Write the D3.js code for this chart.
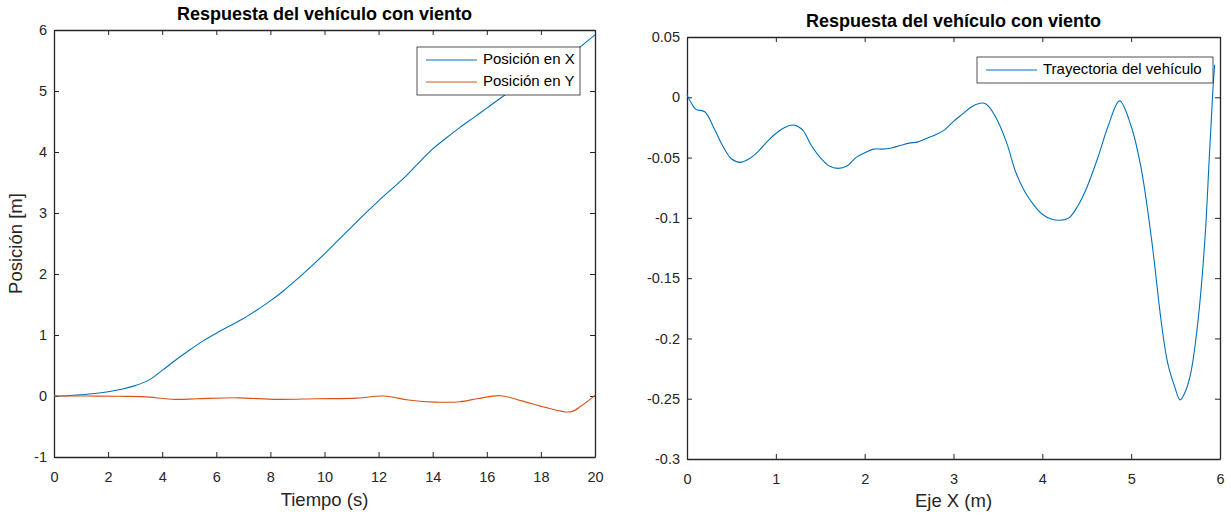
<!DOCTYPE html>
<html>
<head>
<meta charset="UTF-8">
<title>Respuesta del vehículo con viento</title>
<script src="https://d3js.org/d3.v7.min.js"></script>
<style>
    body { margin: 0; background: #fff; }
    svg text { font-family: "Liberation Sans", Arial, sans-serif; fill: #262626; }
    .axis path, .axis line { stroke: #262626; }
    .axis text { font-size: 14.5px; }
    .title { font-size: 18px; font-weight: bold; fill: #000; }
    .label { font-size: 18.5px; }
    .legend text { font-size: 15px; fill: #000; }
</style>
</head>
<body>
<script>
// left plot: position vs time
var tiempoX = [0, 0.5, 1, 1.5, 2, 2.5, 3, 3.5, 4, 4.5, 5, 5.5, 6, 6.5, 7, 7.5, 8, 8.5, 9, 9.5, 10, 10.5, 11, 11.5, 12, 12.5, 13, 13.5, 14, 14.5, 15, 15.5, 16, 16.5, 17, 17.5, 18, 18.5, 19, 19.5, 20];
var posX = [0, 0.005, 0.02, 0.04, 0.07, 0.11, 0.17, 0.26, 0.42, 0.59, 0.75, 0.9, 1.03, 1.15, 1.27, 1.41, 1.56, 1.73, 1.92, 2.12, 2.33, 2.55, 2.77, 2.99, 3.2, 3.4, 3.6, 3.83, 4.05, 4.23, 4.4, 4.56, 4.72, 4.88, 5.03, 5.17, 5.3, 5.43, 5.56, 5.74, 5.92];
var tiempoY = [0, 1.2, 2.4, 3.3, 4.46, 5.3, 6.8, 8.26, 9.7, 11.2, 12.2, 13.1, 14.1, 15, 15.7, 16.5, 17.3, 18.2, 19.1, 19.5, 20];
var posY = [0, 0, -0.005, -0.01, -0.055, -0.045, -0.03, -0.055, -0.045, -0.035, 0, -0.065, -0.1, -0.095, -0.04, 0.005, -0.08, -0.19, -0.26, -0.16, 0.01];

var ticksT = [0, 2, 4, 6, 8, 10, 12, 14, 16, 18, 20];
var ticksPos = [-1, 0, 1, 2, 3, 4, 5, 6];

// right plot: trajectory Y vs X
var trayX = [0, 0.05, 0.1, 0.2, 0.3, 0.4, 0.5, 0.6, 0.7, 0.8, 0.9, 1.0, 1.1, 1.2, 1.3, 1.4, 1.5, 1.6, 1.7, 1.8, 1.9, 2.0, 2.1, 2.2, 2.3, 2.4, 2.5, 2.6, 2.7, 2.8, 2.9, 3.0, 3.1, 3.2, 3.3, 3.35, 3.4, 3.5, 3.6, 3.7, 3.8, 3.9, 4.0, 4.1, 4.2, 4.3, 4.4, 4.5, 4.63, 4.74, 4.87, 5.0, 5.11, 5.23, 5.34, 5.41, 5.49, 5.55, 5.61, 5.67, 5.75, 5.83, 5.88, 5.92, 5.94];
var trayY = [0.002, -0.005, -0.01, -0.012, -0.025, -0.04, -0.051, -0.054, -0.051, -0.045, -0.037, -0.03, -0.025, -0.023, -0.027, -0.04, -0.05, -0.057, -0.059, -0.057, -0.05, -0.046, -0.043, -0.043, -0.042, -0.04, -0.038, -0.037, -0.034, -0.031, -0.027, -0.02, -0.014, -0.008, -0.005, -0.005, -0.008, -0.02, -0.038, -0.062, -0.078, -0.089, -0.097, -0.101, -0.102, -0.1, -0.09, -0.075, -0.049, -0.024, -0.003, -0.024, -0.058, -0.118, -0.187, -0.22, -0.24, -0.251, -0.244, -0.229, -0.187, -0.118, -0.049, 0.006, 0.027];

var ticksEjeX = [0, 1, 2, 3, 4, 5, 6];
var ticksEjeY = [-0.3, -0.25, -0.2, -0.15, -0.1, -0.05, 0, 0.05];

var svg = d3.select("body").append("svg")
    .attr("width", 1231)
    .attr("height", 515);

// matlab style numbers, plain hyphen for negatives
function num(d) { return String(+d.toFixed(2)); }

function drawAxes(box, x, y, xt, yt) {
    var g = svg.append("g");
    g.append("rect")
        .attr("x", box.left).attr("y", box.top)
        .attr("width", box.right - box.left).attr("height", box.bottom - box.top)
        .attr("fill", "#fff");

    g.append("g").attr("class", "axis")
        .attr("transform", "translate(0," + box.bottom + ")")
        .call(d3.axisBottom(x).tickValues(xt).tickSizeInner(-5).tickSizeOuter(0).tickPadding(15).tickFormat(num));
    g.append("g").attr("class", "axis")
        .attr("transform", "translate(0," + box.top + ")")
        .call(d3.axisTop(x).tickValues(xt).tickSizeInner(-5).tickSizeOuter(0).tickFormat(""));
    g.append("g").attr("class", "axis")
        .attr("transform", "translate(" + box.left + ",0)")
        .call(d3.axisLeft(y).tickValues(yt).tickSizeInner(-5).tickSizeOuter(0).tickPadding(7).tickFormat(num));
    g.append("g").attr("class", "axis")
        .attr("transform", "translate(" + box.right + ",0)")
        .call(d3.axisRight(y).tickValues(yt).tickSizeInner(-5).tickSizeOuter(0).tickFormat(""));
    g.selectAll(".axis .domain").attr("stroke-width", 1.3);
    return g;
}

function legend(x0, y0, w, rowH, rows) {
    var lg = svg.append("g").attr("class", "legend");
    lg.append("rect")
        .attr("x", x0).attr("y", y0)
        .attr("width", w).attr("height", rows.length * rowH + 4)
        .attr("fill", "#fff").attr("stroke", "#262626").attr("stroke-width", 0.8);
    rows.forEach(function(r, i) {
        var cy = y0 + 2 + rowH / 2 + i * rowH;
        lg.append("line")
            .attr("x1", x0 + 9).attr("x2", x0 + 60)
            .attr("y1", cy).attr("y2", cy)
            .attr("stroke", r.color).attr("stroke-width", 1);
        lg.append("text")
            .attr("x", x0 + 66).attr("y", cy)
            .attr("dominant-baseline", "middle")
            .text(r.name);
    });
}

// ---- left plot ----
var boxL = {left: 54, right: 595, top: 30, bottom: 457};
var xL = d3.scaleLinear().domain([0, 20]).range([boxL.left, boxL.right]);
var yL = d3.scaleLinear().domain([-1, 6]).range([boxL.bottom, boxL.top]);
drawAxes(boxL, xL, yL, ticksT, ticksPos);

var lineL = d3.line().curve(d3.curveCatmullRom)
    .x(function(d) { return xL(d[0]); })
    .y(function(d) { return yL(d[1]); });

svg.append("path")
    .datum(d3.zip(tiempoX, posX))
    .attr("d", lineL)
    .attr("fill", "none").attr("stroke", "#0072BD").attr("stroke-width", 1.1);
svg.append("path")
    .datum(d3.zip(tiempoY, posY))
    .attr("d", lineL)
    .attr("fill", "none").attr("stroke", "#D95319").attr("stroke-width", 1.1);

legend(417, 47, 163, 22, [
    {name: "Posición en X", color: "#0072BD"},
    {name: "Posición en Y", color: "#D95319"}
]);

svg.append("text").attr("class", "title")
    .attr("x", (boxL.left + boxL.right) / 2).attr("y", 20)
    .attr("text-anchor", "middle").text("Respuesta del vehículo con viento");
svg.append("text").attr("class", "label")
    .attr("x", (boxL.left + boxL.right) / 2).attr("y", 506)
    .attr("text-anchor", "middle").text("Tiempo (s)");
svg.append("text").attr("class", "label")
    .attr("transform", "translate(22," + (boxL.top + boxL.bottom) / 2 + ") rotate(-90)")
    .attr("text-anchor", "middle").text("Posición [m]");

// ---- right plot ----
var boxR = {left: 687, right: 1220, top: 37, bottom: 459};
var xR = d3.scaleLinear().domain([0, 6]).range([boxR.left, boxR.right]);
var yR = d3.scaleLinear().domain([-0.3, 0.05]).range([boxR.bottom, boxR.top]);
drawAxes(boxR, xR, yR, ticksEjeX, ticksEjeY);

var lineR = d3.line().curve(d3.curveCatmullRom)
    .x(function(d) { return xR(d[0]); })
    .y(function(d) { return yR(d[1]); });
svg.append("path")
    .datum(d3.zip(trayX, trayY))
    .attr("d", lineR)
    .attr("fill", "none").attr("stroke", "#0072BD").attr("stroke-width", 1.1);

legend(977, 57, 236, 22, [{name: "Trayectoria del vehículo", color: "#0072BD"}]);

svg.append("text").attr("class", "title")
    .attr("x", (boxR.left + boxR.right) / 2).attr("y", 27)
    .attr("text-anchor", "middle").text("Respuesta del vehículo con viento");
svg.append("text").attr("class", "label")
    .attr("x", (boxR.left + boxR.right) / 2).attr("y", 507)
    .attr("text-anchor", "middle").text("Eje X (m)");

// y label of the right plot is half hidden in the original
svg.append("clipPath").attr("id", "cutY")
    .append("rect").attr("x", 626).attr("y", 0).attr("width", 20).attr("height", 515);
svg.append("text").attr("class", "label")
    .attr("clip-path", "url(#cutY)")
    .attr("transform", "translate(637," + (boxR.top + boxR.bottom) / 2 + ") rotate(-90)")
    .attr("text-anchor", "middle").text("Eje Y (m)");
</script>
</body>
</html>
